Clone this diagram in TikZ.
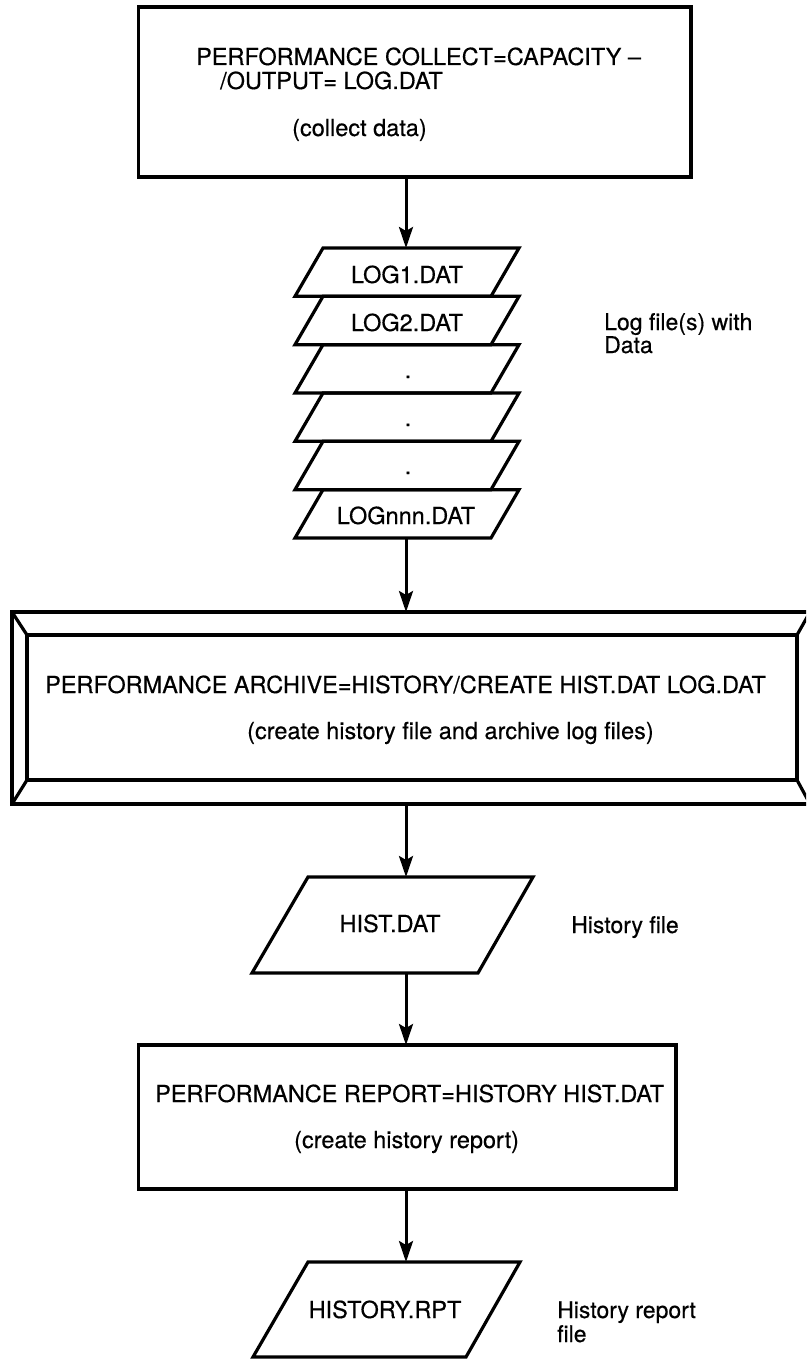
\documentclass[tikz,border=0pt]{standalone}
\usepackage{fontspec}
\setmainfont[FakeBold=0.4]{TeX Gyre Heros}
\usetikzlibrary{arrows.meta}
\begin{document}
\begin{tikzpicture}[x=1pt,y=-1pt,
  outline/.style={draw, line width=3.2pt, inner sep=0pt, outer sep=0pt},
  shp/.style={draw, line width=3.2pt, line join=miter},
  txt/.style={anchor=base west, inner sep=0pt, font=\fontsize{23.5}{25}\selectfont},
  ctxt/.style={anchor=base, inner sep=0pt, font=\fontsize{23.5}{25}\selectfont},
  lbl/.style={anchor=base west, inner sep=0pt, font=\fontsize{23}{23}\selectfont},
  arr/.style={draw, line width=3pt, -{Stealth[length=21pt,width=14pt,inset=4pt]}}]
\useasboundingbox (0,0) rectangle (806,1359);
\clip (0,0) rectangle (806,1359);
\coordinate (axis) at (406,0);

% top box
\node[outline, minimum width=552.5pt, minimum height=170pt] (b1) at (414.75,92) {};
\node[txt] (b1a) at (196,65) {PERFORMANCE COLLECT=CAPACITY --};
\node[txt] (b1b) at (220,89) {/OUTPUT= LOG.DAT};
\node[txt] (b1c) at (292,136) {(collect data)};

% log file stack
\draw[shp] (323,248) -- (519,248) -- (491,296.33) -- (295,296.33) -- cycle;
\draw[shp] (323,296.33) -- (519,296.33) -- (491,344.67) -- (295,344.67) -- cycle;
\draw[shp] (323,344.67) -- (519,344.67) -- (491,393) -- (295,393) -- cycle;
\draw[shp] (323,393) -- (519,393) -- (491,441.33) -- (295,441.33) -- cycle;
\draw[shp] (323,441.33) -- (519,441.33) -- (491,489.67) -- (295,489.67) -- cycle;
\draw[shp] (323,489.67) -- (519,489.67) -- (491,538) -- (295,538) -- cycle;
\coordinate (logtop) at (407,248);
\coordinate (logbot) at (407,538);
\node[ctxt] (l1) at (407,283) {LOG1.DAT};
\node[ctxt] (l2) at (407,331) {LOG2.DAT};
\node[ctxt] (d1) at (408,378) {.};
\node[ctxt] (d2) at (408,426) {.};
\node[ctxt] (d3) at (408,474) {.};
\node[ctxt] (ln) at (406,524) {LOGnnn.DAT};
\node[lbl] (loglbl1) at (604,330) {Log file(s) with};
\node[lbl] (loglbl2) at (604,353) {Data};

% archive box (beveled)
\node[outline, minimum width=798pt, minimum height=192pt] (arco) at (411,708) {};
\node[outline, minimum width=770pt, minimum height=145pt] (arci) at (412,707.5) {};
\draw[shp] (arco.north west) -- (arci.north west);
\draw[shp] (arco.north east) -- (arci.north east);
\draw[shp] (arco.south west) -- (arci.south west);
\draw[shp] (arco.south east) -- (arci.south east);
\node[txt] (ara) at (45,693) {PERFORMANCE ARCHIVE=HISTORY/CREATE HIST.DAT LOG.DAT};
\node[txt] (arb) at (247,739) {(create history file and archive log files)};

% history file
\draw[shp] (308,877) -- (533,877) -- (478,973) -- (252,973) -- cycle;
\coordinate (histtop) at (392,877);
\coordinate (histbot) at (392,973);
\node[ctxt] (hist) at (390,932) {HIST.DAT};
\node[lbl] (histlbl) at (571,933) {History file};

% report box
\node[outline, minimum width=537.5pt, minimum height=144pt] (rep) at (407.25,1117) {};
\node[txt] (repa) at (155,1102) {PERFORMANCE REPORT=HISTORY HIST.DAT};
\node[txt] (repb) at (294,1148) {(create history report)};

% history report file
\draw[shp] (308,1262) -- (520,1262) -- (466,1357) -- (253,1357) -- cycle;
\coordinate (rpttop) at (387,1262);
\node[ctxt] (rpt) at (385,1318) {HISTORY.RPT};
\node[lbl] (rptlbl1) at (557,1318) {History report};
\node[lbl] (rptlbl2) at (557,1342) {file};

% connectors
\draw[arr] (b1.south -| axis) -- (logtop -| axis);
\draw[arr] (logbot -| axis) -- (arco.north -| axis);
\draw[arr] (arco.south -| axis) -- (histtop -| axis);
\draw[arr] (histbot -| axis) -- (rep.north -| axis);
\draw[arr] (rep.south -| axis) -- (rpttop -| axis);
\end{tikzpicture}
\end{document}
